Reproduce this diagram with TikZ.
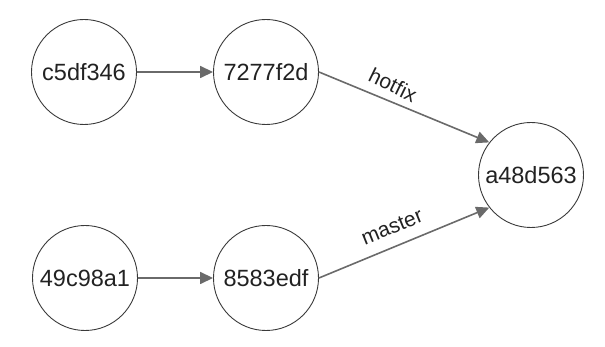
\documentclass[tikz,border=0pt]{standalone}
\usepackage{fontspec}
\setmainfont{Liberation Sans}
\usetikzlibrary{arrows.meta}
\definecolor{arrowgray}{HTML}{6A6A6A}
\definecolor{ringgray}{HTML}{3A3A3A}
\definecolor{txt}{HTML}{222222}
\begin{document}
\begin{tikzpicture}[x=1pt,y=1pt,
  commit/.style={circle,draw=ringgray,line width=0.9pt,minimum size=105pt,inner sep=0pt,text=txt,font=\fontsize{23.5}{27}\selectfont},
  link/.style={draw=arrowgray,line width=1.6pt,-{Triangle[length=13pt,width=12pt]}},
  branchlabel/.style={text=txt,font=\fontsize{21}{24}\selectfont,inner sep=0pt}]
\useasboundingbox (0,0) rectangle (605,347);
\node[commit] (c1) at (84,275) {c5df346};
\node[commit] (c2) at (266,275) {7277f2d};
\node[commit] (c3) at (531,172) {a48d563};
\node[commit] (c4) at (85,69) {49c98a1};
\node[commit] (c5) at (266,69) {8583edf};
\draw[link] (c1.east) -- (c2.west);
\draw[link] (c4.east) -- (c5.west);
\draw[link] (c2.east) -- (c3.142);
\draw[link] (c5.east) -- (c3.218);
\node[branchlabel,rotate=-26] (lh) at (393,262) {hotfix};
\node[branchlabel,rotate=22] (lm) at (392,120) {master};
\end{tikzpicture}
\end{document}
